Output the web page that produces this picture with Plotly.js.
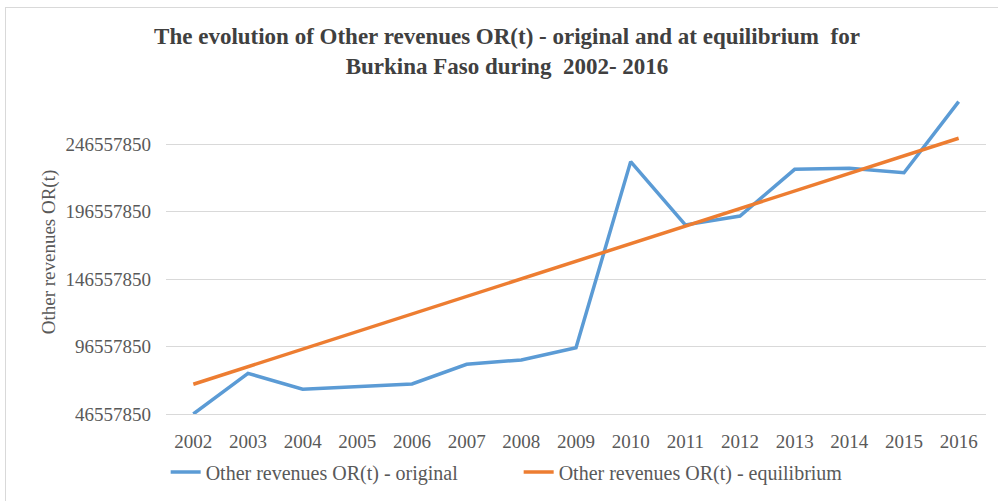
<!DOCTYPE html>
<html>
<head>
<meta charset="utf-8">
<script src="https://cdn.plot.ly/plotly-3.0.1.min.js"></script>
<style>
html,body{margin:0;padding:0;background:#fff;}
#wrap{position:relative;width:998px;height:501px;overflow:hidden;}
#chart{width:998px;height:501px;}
#frame{position:absolute;left:5px;top:7px;width:1000px;height:600px;border-left:1px solid #d9d9d9;border-top:1px solid #d9d9d9;pointer-events:none;}
</style>
</head>
<body>
<div id="wrap"><div id="chart"></div><div id="frame"></div></div>
<script>
const years = ['2002','2003','2004','2005','2006','2007','2008','2009','2010','2011','2012','2013','2014','2015','2016'];
const original = [46600000, 76700000, 64900000, 66800000, 68800000, 83400000, 86600000, 95700000, 233500000, 186600000, 193200000, 227800000, 228600000, 225300000, 277900000];
const equilibrium = [68600000, 81600000, 94600000, 107600000, 120700000, 133700000, 146700000, 159700000, 172700000, 185700000, 198700000, 211800000, 224800000, 237800000, 250800000];
const seriesNames = ['Other revenues OR(t) - original', 'Other revenues OR(t) - equilibrium'];
const yTicks = [46557850, 96557850, 146557850, 196557850, 246557850];

const serif = '"Liberation Serif", "Times New Roman", serif';
const traces = [
  {x: years, y: original, name: seriesNames[0], type: 'scatter', mode: 'lines',
   line: {color: '#5b9bd5', width: 3.5}},
  {x: years, y: equilibrium, name: seriesNames[1], type: 'scatter', mode: 'lines',
   line: {color: '#ed7d31', width: 3.5}}
];
const layout = {
  width: 998, height: 501,
  margin: {l: 166, r: 12, t: 90, b: 87},
  paper_bgcolor: '#ffffff', plot_bgcolor: '#ffffff',
  font: {family: serif, color: '#595959', size: 19},
  title: {
    text: '<b>The evolution of Other revenues OR(t) - original and at equilibrium  for<br>Burkina Faso during  2002- 2016</b>',
    font: {family: serif, size: 23, color: '#404040'},
    x: 0.508, xanchor: 'center', y: 0.912, yanchor: 'top'
  },
  xaxis: {
    type: 'category', range: [-0.5, 14.5], automargin: false,
    showgrid: false, showline: true, linecolor: '#d9d9d9', linewidth: 1,
    ticks: '', ticklabelstandoff: 10, tickfont: {family: serif, size: 19, color: '#595959'},
    fixedrange: true
  },
  yaxis: {
    range: [46557850, 286557850], tickvals: yTicks, tickformat: 'd', automargin: false,
    showgrid: true, gridcolor: '#d9d9d9', gridwidth: 1, zeroline: false, showline: false,
    ticks: '', ticklabelstandoff: 14, tickfont: {family: serif, size: 19, color: '#595959'},
    title: {text: 'Other revenues OR(t)', font: {family: serif, size: 19, color: '#595959'}, standoff: 4},
    fixedrange: true
  },
  showlegend: true,
  legend: {orientation: 'h', xref: 'container', yref: 'container', x: 0.166, xanchor: 'left', y: 0.058, yanchor: 'middle',
    font: {family: serif, size: 20, color: '#595959'}, entrywidth: 308, entrywidthmode: 'pixels', tracegroupgap: 0},
};
Plotly.newPlot('chart', traces, layout, {displayModeBar: false, staticPlot: true});
</script>
</body>
</html>
